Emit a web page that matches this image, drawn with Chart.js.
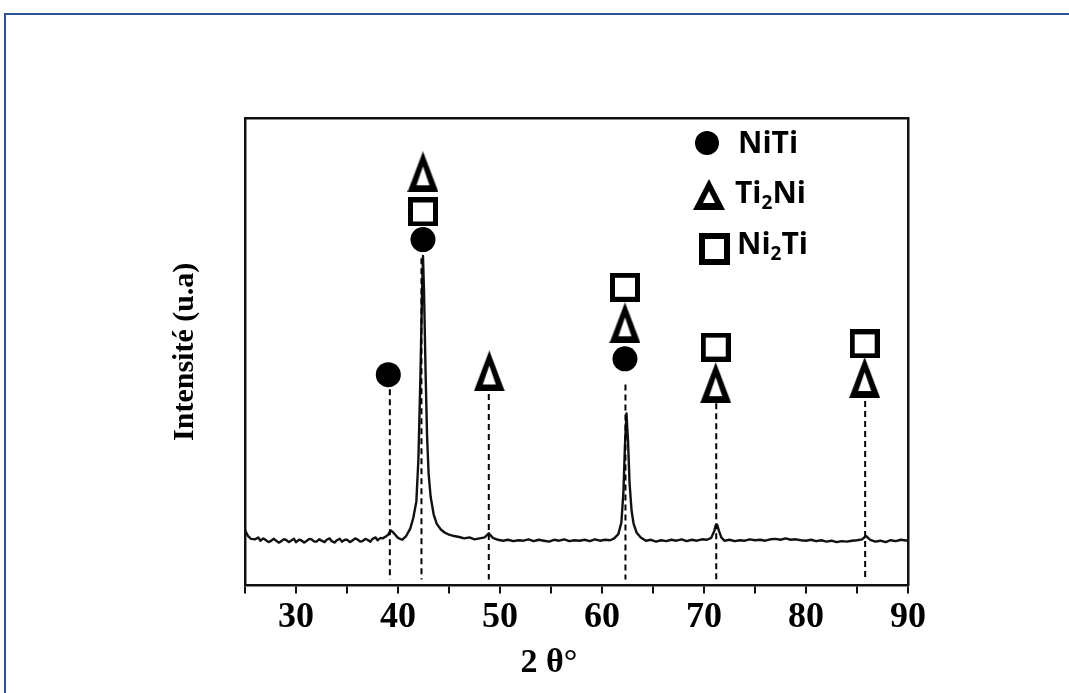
<!DOCTYPE html>
<html><head><meta charset="utf-8">
<script src="https://cdn.jsdelivr.net/npm/chart.js@4.4.0/dist/chart.umd.min.js"></script>
<style>
html,body{margin:0;padding:0;background:#fff;overflow:hidden}
#wrap{position:relative;width:1069px;height:693px;background:#fff}
#frame{position:absolute;left:4px;top:13px;width:3000px;height:3000px;border-left:2px solid #2e5496;border-top:2px solid #2e5496;pointer-events:none}
</style></head><body>
<div id="wrap"><canvas id="c" width="1069" height="693"></canvas><div id="frame"></div></div>
<script>
// XRD pattern (2θ in degrees, intensity in arbitrary units)
const twoTheta = [25.0,25.3,25.6,26.0,26.3,26.5,26.8,27.0,27.3,27.5,27.8,28.0,28.3,28.5,28.8,29.0,29.3,29.5,29.8,30.0,30.3,30.5,30.8,31.0,31.3,31.5,31.8,32.0,32.3,32.5,32.8,33.0,33.3,33.5,33.8,34.0,34.3,34.5,34.8,35.0,35.3,35.5,35.8,36.0,36.3,36.5,36.8,37.0,37.3,37.5,37.8,38.0,38.3,38.5,38.8,39.0,39.3,39.6,40.0,40.4,40.8,41.2,41.5,41.8,42.0,42.2,42.35,42.45,42.55,42.7,42.85,43.0,43.2,43.5,43.8,44.2,44.6,45.0,45.5,46.0,46.5,47.0,47.5,48.0,48.5,48.9,49.3,49.8,50.3,50.8,51.3,51.8,52.3,52.8,53.3,53.8,54.3,54.8,55.3,55.8,56.3,56.8,57.3,57.8,58.3,58.8,59.3,59.8,60.3,60.8,61.2,61.6,61.9,62.1,62.25,62.4,62.55,62.7,62.9,63.1,63.4,63.8,64.3,64.8,65.3,65.8,66.3,66.8,67.3,67.8,68.3,68.8,69.3,69.8,70.3,70.7,71.0,71.15,71.3,71.45,71.7,72.0,72.5,73.0,73.5,74.0,74.5,75.0,75.5,76.0,76.5,77.0,77.5,78.0,78.5,79.0,79.5,80.0,80.5,81.0,81.5,82.0,82.5,83.0,83.5,84.0,84.5,85.0,85.5,85.9,86.3,86.8,87.3,87.8,88.3,88.8,89.3,90.0];
const intensity = [11.8,10.6,10.0,9.9,10.3,9.6,10.1,9.8,9.3,9.5,10.0,9.7,9.2,9.4,9.9,9.8,9.3,9.6,10.0,9.3,9.8,9.7,9.2,9.5,10.0,9.9,9.4,9.4,9.9,9.6,9.3,9.8,10.1,9.5,9.2,9.7,10.0,9.4,9.8,9.8,9.3,9.6,10.1,9.9,9.4,9.5,10.0,9.8,9.4,10.0,10.3,9.7,10.2,10.1,10.5,10.8,11.8,11.2,10.2,9.8,10.6,12.2,14.5,18,27,45,62,70.5,63,46,32,24,19,15.2,13.2,12.0,11.3,10.9,10.6,10.4,10.1,10.3,9.9,10.1,10.3,11.2,10.2,9.8,9.6,9.8,9.5,9.7,9.6,9.9,9.5,9.8,9.6,9.4,9.8,9.6,9.9,9.5,9.7,9.6,9.8,9.5,9.9,9.6,9.8,9.7,10.1,11.0,13.5,20,30,36.8,31,22,16,13.2,11.3,10.3,9.6,9.8,9.4,9.7,9.5,9.8,9.6,9.9,9.5,9.8,9.6,9.9,9.8,10.2,11.6,12.9,13.0,11.8,10.3,9.6,9.8,9.5,9.7,9.6,9.9,9.7,9.8,9.6,9.9,10.0,9.8,10.1,9.8,9.9,9.7,9.6,9.8,9.5,9.7,9.4,9.6,9.3,9.5,9.4,9.6,9.7,9.9,10.6,9.8,9.4,9.6,9.3,9.7,9.5,9.8,9.6];

// reference (dashed) lines
const refLineX = [39.2, 42.3, 48.9, 62.3, 71.2, 85.8];
const refLineTop = [42, 70, 41, 43, 39, 39.5];
const refLineBottom = 1.3;

// phase markers
const phaseNames = ['NiTi', 'Ti₂Ni', 'Ni₂Ti'];
const nitiX = [39.05, 42.45, 62.25];
const nitiY = [45.1, 74.0, 48.5];
const ti2niX = [42.45, 48.95, 62.25, 71.15, 85.75];
const ti2niY = [88.5, 45.9, 56.2, 43.4, 44.5];
const ni2tiX = [42.45, 62.25, 71.15, 85.75];
const ni2tiY = [79.9, 63.8, 51.0, 51.7];

const xMin = 25, xMax = 90, xStep = 5, xLabelEvery = 10;
const xTitle = '2 θ°';
const yTitle = 'Intensité (u.a)';

function makeTriangle(w, h, holeW, holeBottom, holeTop) {
  const c = document.createElement('canvas'); c.width = w; c.height = h;
  const g = c.getContext('2d');
  g.fillStyle = '#000'; g.beginPath(); g.moveTo(w/2, 0); g.lineTo(w, h); g.lineTo(0, h); g.closePath(); g.fill();
  g.fillStyle = '#fff'; g.beginPath(); g.moveTo(w/2, holeTop); g.lineTo(w/2 + holeW/2, h - holeBottom); g.lineTo(w/2 - holeW/2, h - holeBottom); g.closePath(); g.fill();
  return c;
}
function makeSquare(w, h, b) {
  const c = document.createElement('canvas'); c.width = w; c.height = h;
  const g = c.getContext('2d');
  g.fillStyle = '#000'; g.fillRect(0, 0, w, h);
  g.fillStyle = '#fff'; g.fillRect(b, b, w - 2*b, h - 2*b);
  return c;
}
function makeCircle(d) {
  const c = document.createElement('canvas'); c.width = d; c.height = d;
  const g = c.getContext('2d');
  g.fillStyle = '#000'; g.beginPath(); g.arc(d/2, d/2, d/2, 0, Math.PI*2); g.fill();
  return c;
}
const triImg = makeTriangle(31, 41, 13, 7, 15);
const sqImg = makeSquare(30, 29, 5);
const legTri = makeTriangle(32, 31, 12, 7, 12);
const legSq = makeSquare(31, 32, 6);
const legCirc = makeCircle(24);

const pts = (xs, ys) => xs.map((x, i) => ({x, y: ys[i]}));

const datasets = [];
datasets.push({label: phaseNames[0], data: pts(nitiX, nitiY), pointStyle: 'circle', pointRadius: 12.5, backgroundColor: '#000', borderWidth: 0, showLine: false, order: 0, clip: false, xAxisID: 'x', yAxisID: 'y'});
datasets.push({label: phaseNames[1], data: pts(ti2niX, ti2niY), pointStyle: triImg, pointRadius: 10, showLine: false, order: 0, clip: false, xAxisID: 'x', yAxisID: 'y'});
datasets.push({label: phaseNames[2], data: pts(ni2tiX, ni2tiY), pointStyle: sqImg, pointRadius: 10, showLine: false, order: 0, clip: false, xAxisID: 'x', yAxisID: 'y'});
refLineX.forEach((x, i) => {
  datasets.push({label: 'ref' + i, data: [{x, y: refLineTop[i]}, {x, y: refLineBottom}], showLine: true, borderColor: '#000', borderWidth: 2, borderDash: [6, 4], pointRadius: 0, order: 1, xAxisID: 'x', yAxisID: 'y'});
});
datasets.push({label: 'XRD', data: pts(twoTheta, intensity), showLine: true, borderColor: '#111', borderWidth: 2.4, pointRadius: 0, tension: 0, borderJoinStyle: 'round', order: 2, xAxisID: 'x', yAxisID: 'y'});

function drawRich(ctx, str, x, y, big, small, subShift) {
  const subs = '₀₁₂₃₄₅₆₇₈₉';
  let cx = x;
  for (const ch of str) {
    const k = subs.indexOf(ch);
    if (k >= 0) {
      ctx.font = small; ctx.fillText(String(k), cx, y + subShift); cx += ctx.measureText(String(k)).width;
    } else {
      ctx.font = big; ctx.fillText(ch, cx, y); cx += ctx.measureText(ch).width;
    }
  }
}

const legendPlugin = {
  id: 'phaseLegend',
  afterDraw(chart) {
    const {ctx, chartArea: a} = chart;
    ctx.save();
    ctx.fillStyle = '#000'; ctx.textBaseline = 'alphabetic'; ctx.textAlign = 'left';
    const big = 'bold 30px "Open Sans", "Liberation Sans", Arial, sans-serif';
    const small = 'bold 19px "Open Sans", "Liberation Sans", Arial, sans-serif';
    const imgs = [legCirc, legTri, legSq];
    const mx = [462, 464, 469], my = [25, 76, 131];
    const tx = [493, 490, 492], ty = [35, 85, 136];
    for (let i = 0; i < 3; i++) {
      const im = imgs[i];
      ctx.drawImage(im, Math.round(a.left + mx[i] - im.width/2), Math.round(a.top + my[i] - im.height/2));
      drawRich(ctx, phaseNames[i], a.left + tx[i], a.top + ty[i], big, small, 6);
    }
    ctx.restore();
  }
};

new Chart(document.getElementById('c'), {
  type: 'scatter',
  data: {datasets},
  plugins: [legendPlugin],
  options: {
    responsive: false, animation: false, devicePixelRatio: 1,
    layout: {padding: {left: 29, right: 0, top: 118, bottom: 0}},
    plugins: {
      legend: {display: false}, tooltip: {enabled: false},
      title: {display: true, position: 'bottom', text: xTitle, color: '#000',
        font: {family: '"Liberation Serif", "Times New Roman", serif', size: 34, weight: 'bold', lineHeight: 1.2},
        padding: {top: 0, bottom: 9}}
    },
    scales: {
      x: {type: 'linear', position: 'bottom', min: xMin, max: xMax,
        ticks: {stepSize: xStep, autoSkip: false, maxRotation: 0, padding: 3, color: '#000',
          font: {family: '"Liberation Serif", "Times New Roman", serif', size: 36, weight: 'bold', lineHeight: 1.2},
          callback: v => (v % xLabelEvery === 0 ? String(v) : '')},
        grid: {display: true, drawOnChartArea: false, drawTicks: true, tickLength: 8, color: '#111', lineWidth: 2},
        border: {display: true, color: '#111', width: 2.5},
        afterFit: s => { s.height = 57.6; }},
      xTop: {type: 'linear', position: 'top', min: xMin, max: xMax,
        ticks: {display: false}, grid: {display: false, drawTicks: false},
        border: {display: true, color: '#111', width: 2.5},
        afterFit: s => { s.height = 0; }},
      y: {type: 'linear', position: 'left', min: 0, max: 100,
        ticks: {display: false}, grid: {display: false, drawTicks: false},
        border: {display: true, color: '#111', width: 2.5},
        title: {display: true, text: yTitle, color: '#000',
          font: {family: '"Liberation Serif", "Times New Roman", serif', size: 30, weight: 'bold', lineHeight: 1.2},
          padding: {top: 138, bottom: 0}},
        afterFit: s => { s.width = 216; }},
      yRight: {type: 'linear', position: 'right', min: 0, max: 100,
        ticks: {display: false}, grid: {display: false, drawTicks: false},
        border: {display: true, color: '#111', width: 2.5},
        afterFit: s => { s.width = 161; }}
    }
  }
});
</script>
</body></html>
